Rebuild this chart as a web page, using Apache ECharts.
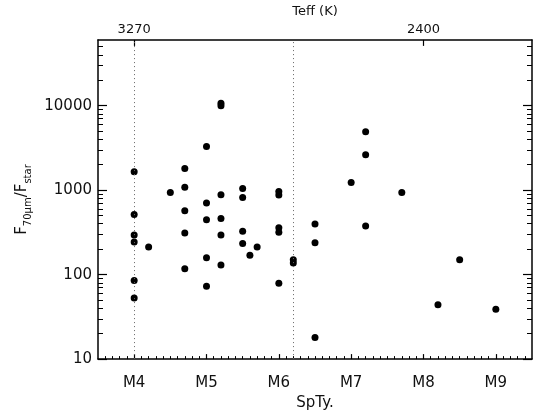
<!DOCTYPE html>
<html>
<head>
<meta charset="utf-8">
<script src="https://cdn.jsdelivr.net/npm/echarts@6/dist/echarts.min.js"></script>
<style>
  html, body { margin: 0; padding: 0; background: #fff; }
  #chart { width: 538px; height: 416px; }
</style>
</head>
<body>
<div id="chart"></div>
<script>
// Spectral subtype (M-number) of each star
const spType = [
  4.0, 4.0, 4.0, 4.0, 4.0, 4.0,
  4.2,
  4.5,
  4.7, 4.7, 4.7, 4.7, 4.7,
  5.0, 5.0, 5.0, 5.0, 5.0,
  5.2, 5.2, 5.2, 5.2, 5.2, 5.2,
  5.5, 5.5, 5.5, 5.5,
  5.6,
  5.7,
  6.0, 6.0, 6.0, 6.0, 6.0,
  6.2, 6.2,
  6.5, 6.5, 6.5,
  7.0,
  7.2, 7.2, 7.2,
  7.7,
  8.2,
  8.5,
  9.0
];
// 70 micron flux over photospheric flux
const fluxRatio = [
  1650, 515, 294, 243, 85, 53,
  212,
  938,
  1800, 1085, 570, 310, 117,
  3290, 702, 446, 158, 73,
  10000, 10700, 881, 462, 294, 130,
  1046, 819, 327, 234,
  170,
  212,
  964, 873, 358, 318, 79,
  150, 137,
  396, 238, 18,
  1230,
  4900, 2620, 375,
  938,
  44,
  150,
  38.8
];
// Bottom axis labels
const subtypeTicks = [4, 5, 6, 7, 8, 9];
const subtypeLabels = ['M4', 'M5', 'M6', 'M7', 'M8', 'M9'];
// Top axis: effective temperature at selected subtypes
const teffTicks = [4, 8];
const teffLabels = ['3270', '2400'];
// Reference subtypes marked with dotted lines
const refLines = [4, 6.2];
// Y decades
const yMajor = [10, 100, 1000, 10000];

const X_MIN = 3.5, X_MAX = 9.5, Y_MIN = 10, Y_MAX = 60000;

const xMinor = [];
for (let k = 36; k <= 94; k++) if (k % 10 !== 0) xMinor.push(k / 10);
const yMinor = [];
for (let d = 10; d <= 10000; d *= 10)
  for (let m = 2; m <= 9; m++) if (m * d < Y_MAX) yMinor.push(m * d);

const points = spType.map((x, i) => [x, fluxRatio[i]]);

const FONT = 'DejaVu Sans';
const INK = '#111';
const lineSty = { color: '#000', width: 1.5 };

const chart = echarts.init(document.getElementById('chart'), null, { renderer: 'canvas' });

function xAx(extra) {
  return Object.assign({
    type: 'value', min: X_MIN, max: X_MAX,
    splitLine: { show: false },
    axisLine: { show: false, onZero: false, lineStyle: lineSty },
    axisTick: { show: false },
    axisLabel: { show: false }
  }, extra);
}
function yAx(extra) {
  return Object.assign({
    type: 'log', logBase: 10, min: Y_MIN, max: Y_MAX,
    splitLine: { show: false },
    axisLine: { show: false, onZero: false, lineStyle: lineSty },
    axisTick: { show: false },
    axisLabel: { show: false }
  }, extra);
}

chart.setOption({
  animation: false,
  backgroundColor: '#fff',
  grid: { left: 98, right: 6, top: 37.5, bottom: 51, containLabel: false },
  xAxis: [
    xAx({
      position: 'bottom',
      axisLine: { show: true, onZero: false, lineStyle: lineSty },
      axisTick: { show: true, inside: true, length: 5, customValues: subtypeTicks, lineStyle: { color: '#000', width: 1.2 } },
      axisLabel: {
        show: true, customValues: subtypeTicks, margin: 17,
        formatter: v => subtypeLabels[subtypeTicks.indexOf(Math.round(v))] || '',
        fontFamily: FONT, fontSize: 15, color: INK
      },
      name: 'SpTy.', nameLocation: 'middle', nameGap: 36,
      nameTextStyle: { fontFamily: FONT, fontSize: 15, color: INK }
    }),
    xAx({
      position: 'bottom',
      axisTick: { show: true, inside: true, length: 3, customValues: xMinor, lineStyle: { color: '#000', width: 1 } }
    }),
    xAx({
      position: 'top',
      axisLine: { show: true, onZero: false, lineStyle: lineSty },
      axisTick: { show: true, inside: true, length: 6, customValues: teffTicks, lineStyle: { color: '#000', width: 1.2 } },
      axisLabel: {
        show: true, customValues: teffTicks, margin: 4,
        formatter: v => teffLabels[teffTicks.indexOf(Math.round(v))] || '',
        fontFamily: FONT, fontSize: 13, color: INK
      },
      name: 'Teff (K)', nameLocation: 'middle', nameGap: 21,
      nameTextStyle: { fontFamily: FONT, fontSize: 13, color: INK }
    })
  ],
  yAxis: [
    yAx({
      position: 'left',
      axisLine: { show: true, onZero: false, lineStyle: lineSty },
      axisTick: { show: true, inside: true, length: 9, customValues: yMajor, lineStyle: { color: '#000', width: 1.2 } },
      axisLabel: {
        show: true, customValues: yMajor, margin: 6,
        formatter: v => String(Math.round(v)),
        fontFamily: FONT, fontSize: 15, color: INK
      },
      name: '{m|F}{s|70μm}{m|/F}{s|star}',
      nameLocation: 'middle', nameGap: 64, nameRotate: 90,
      nameTextStyle: {
        fontFamily: FONT, color: INK,
        rich: {
          m: { fontFamily: FONT, fontSize: 15, color: INK, lineHeight: 22, verticalAlign: 'middle' },
          s: { fontFamily: FONT, fontSize: 10, color: INK, lineHeight: 12, verticalAlign: 'bottom' }
        }
      }
    }),
    yAx({
      position: 'left',
      axisTick: { show: true, inside: true, length: 5, customValues: yMinor, lineStyle: { color: '#000', width: 1 } }
    }),
    yAx({
      position: 'right',
      axisLine: { show: true, onZero: false, lineStyle: lineSty },
      axisTick: { show: true, inside: true, length: 9, customValues: yMajor, lineStyle: { color: '#000', width: 1.2 } }
    }),
    yAx({
      position: 'right',
      axisTick: { show: true, inside: true, length: 5, customValues: yMinor, lineStyle: { color: '#000', width: 1 } }
    })
  ],
  series: [{
    type: 'scatter',
    xAxisIndex: 0, yAxisIndex: 0,
    data: points,
    symbol: 'circle', symbolSize: 7,
    itemStyle: { color: '#000', opacity: 1 },
    markLine: {
      silent: true, symbol: ['none', 'none'],
      label: { show: false },
      lineStyle: { color: '#666', type: [1, 3], width: 1 },
      data: refLines.map(v => ({ xAxis: v }))
    }
  }]
});
</script>
</body>
</html>
